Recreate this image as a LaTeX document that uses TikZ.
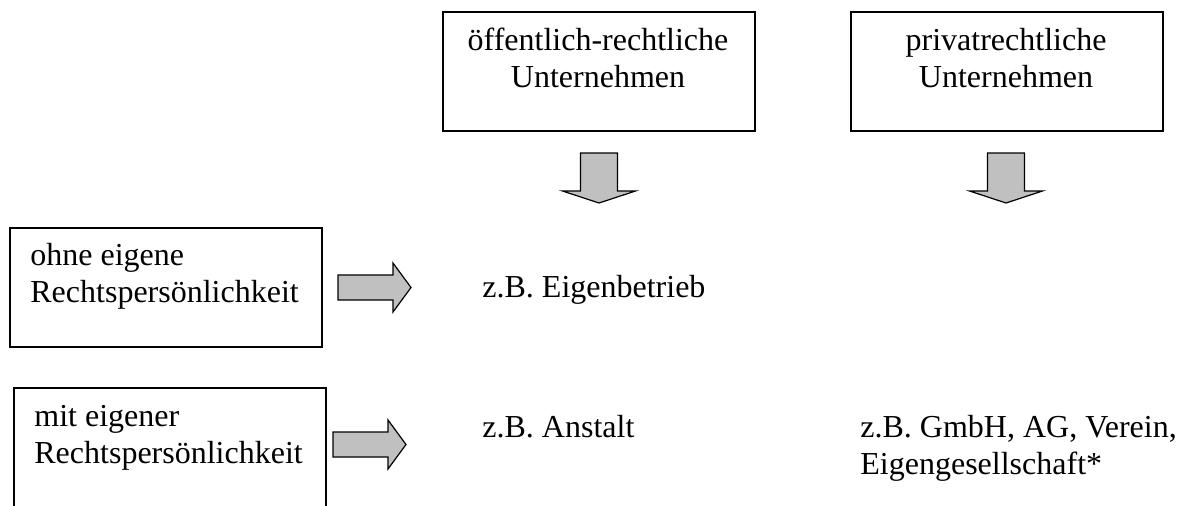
\documentclass[tikz,border=0pt]{standalone}
\usepackage{fontspec}
\setmainfont{Liberation Serif}
\usepackage{xcolor}
\usetikzlibrary{positioning}

\definecolor{arrowgray}{RGB}{192,192,192}

\begin{document}
\begin{tikzpicture}[
  x=0.5pt, y=-0.5pt,
  font=\fontsize{16}{18.5}\selectfont,
  box/.style={draw, line width=0.9pt, anchor=north west, inner sep=0pt, minimum width=156pt, minimum height=59.5pt},
  boxtext/.style={align=center, inner sep=0pt, anchor=north},
  sidetext/.style={align=left, inner sep=0pt, anchor=north west},
  example/.style={inner sep=0pt, anchor=base west},
  blockarrow/.style={draw, line width=0.6pt, fill=arrowgray, line join=miter}
]
\useasboundingbox (0,0) rectangle (1186,505);
\clip (0,0) rectangle (1186,505);

% top row
\node[box] (oeff) at (442,11) {};
\node[box] (priv) at (850,11) {};
\node[boxtext] (oefftext) at (598,28) {öffentlich-rechtliche\\Unternehmen};
\node[boxtext] (privtext) at (1006,28) {privatrechtliche\\Unternehmen};

% left column
\node[box] (ohne) at (9,227) {};
\node[box] (mit) at (13,387) {};
\node[sidetext] (ohnetext) at (30,243) {ohne eigene\\Rechtspersönlichkeit};
\node[sidetext] (mittext) at (34,405) {mit eigener\\Rechtspersönlichkeit};

% examples
\node[example] (eigenbetrieb) at (482,297) {z.B. Eigenbetrieb};
\node[example] (anstalt) at (482,437) {z.B. Anstalt};
\node[sidetext] (gmbh) at (860,415) {z.B. GmbH, AG, Verein,\\Eigengesellschaft*};

% arrows down
\foreach \cx in {599,1006}
  \draw[blockarrow] (\cx-18.5,153) -- ++(37,0) -- ++(0,38) -- ++(18,0)
    -- ++(-36.5,12) -- ++(-36.5,-12) -- ++(18,0) -- cycle;

% arrows right
\foreach \sx/\cy in {338/287.5,333/444.5}
  \draw[blockarrow] (\sx,\cy-12.5) -- ++(55,0) -- ++(0,-12) -- ++(18,24.5)
    -- ++(-18,24.5) -- ++(0,-12) -- ++(-55,0) -- cycle;

\end{tikzpicture}
\end{document}
